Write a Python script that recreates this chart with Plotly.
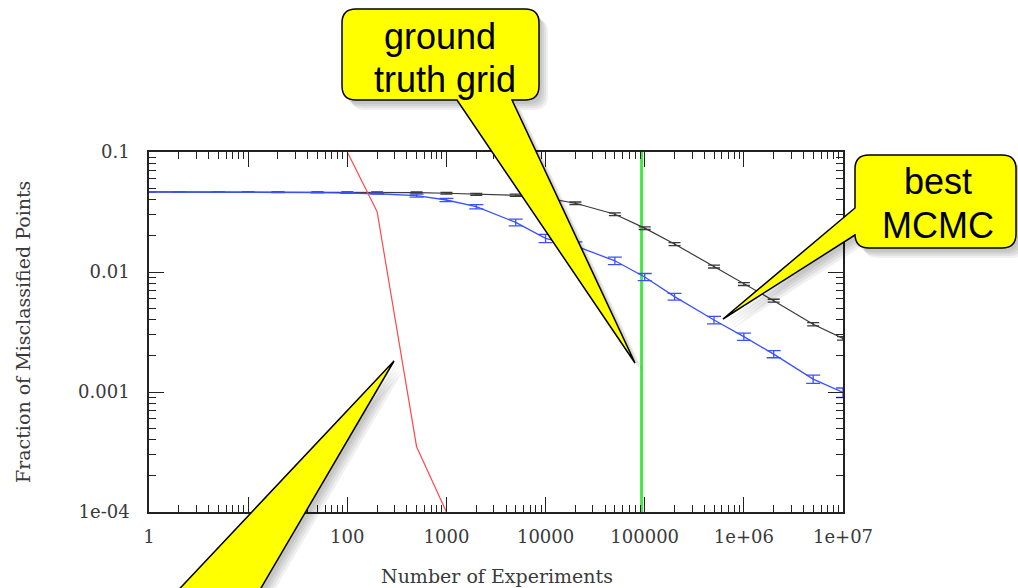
import plotly.graph_objects as go

# ---- data -------------------------------------------------------------
experiments = [1, 2, 5, 10, 20, 50, 100, 200, 500, 1e3, 2e3, 5e3,
               1e4, 2e4, 5e4, 1e5, 2e5, 5e5, 1e6, 2e6, 5e6, 1e7]

best_mcmc = [0.0464, 0.0464, 0.0463, 0.0462, 0.0460, 0.0458, 0.0455, 0.0449,
             0.0433, 0.0398, 0.0350, 0.0259, 0.0191, 0.0165, 0.0124, 0.00909,
             0.00623, 0.00398, 0.00289, 0.00207, 0.00128, 0.00099]
best_mcmc_err = [0.0001, 0.0001, 0.0001, 0.0001, 0.0002, 0.0002, 0.0003, 0.0004,
                 0.0013, 0.0012, 0.0014, 0.0017, 0.0015, 0.0013, 0.0009, 0.00063,
                 0.0004, 0.00028, 0.0002, 0.00014, 0.0001, 0.00009]

other_mcmc = [0.0465, 0.0465, 0.0465, 0.0465, 0.0465, 0.0464, 0.0463, 0.0462,
              0.0459, 0.0453, 0.0444, 0.0436, 0.0414, 0.0374, 0.0303, 0.0232,
              0.0171, 0.0111, 0.00794, 0.00577, 0.00367, 0.0028]
other_mcmc_err = [0.0001, 0.0001, 0.0001, 0.0001, 0.0001, 0.0002, 0.0002, 0.0003,
                  0.0005, 0.0007, 0.0008, 0.0009, 0.0009, 0.0009, 0.0008, 0.0006,
                  0.0005, 0.0003, 0.00022, 0.00016, 0.00011, 0.00009]

steep_x = [100, 200, 500, 1000]
steep_frac = [0.1, 0.0318, 0.00035, 0.0001]

truth_grid_size = 93000

x_tickvals = [1, 10, 100, 1000, 10000, 100000, 1e6, 1e7]
x_ticktext = ["1", "10", "100", "1000", "10000", "100000", "1e+06", "1e+07"]
y_tickvals = [1e-4, 1e-3, 1e-2, 1e-1]
y_ticktext = ["1e-04", "0.001", "0.01", "0.1"]

callout_truth = ["ground", "truth grid"]
callout_mcmc = ["best", "MCMC"]

# ---- plot-area geometry (pixels) -------------------------------------
W, H = 1018, 588
L, R, T, B = 149, 843, 152, 512


def px(x):
    return (x - L) / (R - L)


def py(y):
    return (B - y) / (B - T)


def path_from(cmds, dx=0, dy=0):
    out = []
    for c in cmds:
        op, pts = c[0], c[1:]
        coords = " ".join(f"{px(pts[i] + dx):.5f},{py(pts[i + 1] + dy):.5f}"
                          for i in range(0, len(pts), 2))
        out.append(f"{op} {coords}" if coords else op)
    return " ".join(out)


def rounded_box(l, t, r, b, rad, side_hook):
    """Rounded rectangle outline with a wedge inserted on one side."""
    cmds = [("M", l + rad, t), ("L", r - rad, t), ("Q", r, t, r, t + rad),
            ("L", r, b - rad), ("Q", r, b, r - rad, b)]
    if side_hook[0] == "bottom":
        cmds += [("L",) + p for p in side_hook[1]]
    cmds += [("L", l + rad, b), ("Q", l, b, l, b - rad)]
    if side_hook[0] == "left":
        cmds += [("L",) + p for p in side_hook[1]]
    cmds += [("L", l, t + rad), ("Q", l, t, l + rad, t), ("Z",)]
    return cmds


truth_shape = rounded_box(342, 9, 539, 100, 14,
                          ("bottom", [(512, 100), (635, 363), (457, 100)]))
mcmc_shape = rounded_box(855, 155, 1016, 248, 14,
                         ("left", [(855, 235), (723, 319), (855, 208)]))
steep_wedge = [("M", 169, 600), ("L", 394, 361), ("L", 254, 600), ("Z",)]

# ---- traces -----------------------------------------------------------
fig = go.Figure()

fig.add_trace(go.Scatter(
    x=[truth_grid_size, truth_grid_size], y=[1e-4, 0.1], mode="lines",
    line=dict(color="#45e845", width=3), showlegend=False, hoverinfo="skip"))

fig.add_trace(go.Scatter(
    x=experiments, y=other_mcmc, mode="lines",
    line=dict(color="#3a3a3a", width=1.2),
    error_y=dict(type="data", array=other_mcmc_err, color="#3a3a3a",
                 thickness=1.3, width=6),
    showlegend=False))

fig.add_trace(go.Scatter(
    x=experiments, y=best_mcmc, mode="lines",
    line=dict(color="#3c50ff", width=1.3),
    error_y=dict(type="data", array=best_mcmc_err, color="#3c50ff",
                 thickness=1.3, width=7),
    showlegend=False))

fig.add_trace(go.Scatter(
    x=steep_x, y=steep_frac, mode="lines",
    line=dict(color="#ff4a4a", width=1.2), showlegend=False))

# ---- callout shapes ---------------------------------------------------
shapes = []
for cmds in (truth_shape, mcmc_shape, steep_wedge):
    for k in range(1, 5):
        shapes.append(dict(type="path", xref="paper", yref="paper",
                           path=path_from(cmds, 2 * k + 1, 2 * k + 2),
                           fillcolor="rgba(0,0,0,0.06)", line=dict(width=0),
                           layer="above"))
for cmds in (truth_shape, mcmc_shape, steep_wedge):
    shapes.append(dict(type="path", xref="paper", yref="paper",
                       path=path_from(cmds), fillcolor="#ffff00",
                       line=dict(color="black", width=1.5), layer="above"))

annotations = []
for text, cx, cy in ((callout_truth[0], 440, 36), (callout_truth[1], 445, 79),
                     (callout_mcmc[0], 938, 181), (callout_mcmc[1], 938, 225)):
    annotations.append(dict(text=text, xref="paper", yref="paper",
                            x=px(cx), y=py(cy), xanchor="center", yanchor="middle",
                            showarrow=False,
                            font=dict(family="Liberation Sans, Arial", size=36,
                                      color="black")))

tick_font = dict(family="DejaVu Serif", size=18, color="#3a3a3a")
title_font = dict(family="DejaVu Serif", size=19, color="#3a3a3a")
annotations.append(dict(text="Number of Experiments", xref="paper", yref="paper",
                        x=px(497), y=py(576), xanchor="center", yanchor="middle",
                        showarrow=False, font=title_font))
annotations.append(dict(text="Fraction of Misclassified Points", xref="paper",
                        yref="paper", x=px(23), y=py(332), xanchor="center",
                        yanchor="middle", textangle=-90, showarrow=False,
                        font=title_font))

minor_x = [m * 10 ** k for k in range(7) for m in range(2, 10)]
minor_y = [m * 10.0 ** k for k in range(-4, -1) for m in range(2, 10)]

common_axis = dict(type="log", showgrid=False, zeroline=False, showline=True,
                   linecolor="#222", linewidth=1.5, mirror="allticks",
                   ticks="inside", ticklen=15, tickwidth=1.2, tickcolor="#222",
                   tickfont=tick_font)

fig.update_layout(
    width=W, height=H, margin=dict(l=L, r=W - R, t=T, b=H - B, pad=0),
    paper_bgcolor="white", plot_bgcolor="white",
    xaxis=dict(range=[0, 7], tickmode="array", tickvals=x_tickvals,
               ticktext=x_ticktext, ticklabelstandoff=8,
               minor=dict(tickmode="array", tickvals=minor_x, ticks="inside",
                          ticklen=7, tickwidth=1, tickcolor="#222"),
               **common_axis),
    yaxis=dict(range=[-4, -1], tickmode="array", tickvals=y_tickvals,
               ticktext=y_ticktext, ticklabelstandoff=14,
               minor=dict(tickmode="array", tickvals=minor_y, ticks="inside",
                          ticklen=7, tickwidth=1, tickcolor="#222"),
               **common_axis),
    shapes=shapes, annotations=annotations,
)

fig.write_html("out.html")
